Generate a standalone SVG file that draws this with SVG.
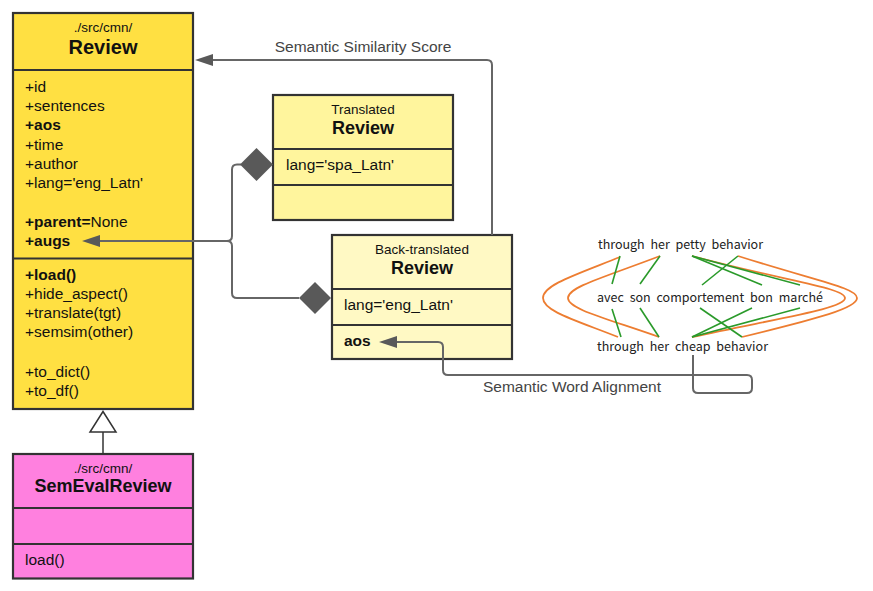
<svg xmlns="http://www.w3.org/2000/svg" width="873" height="591" viewBox="0 0 873 591">
<style>
.box{stroke:#333;stroke-width:2.2}
.t{font-family:"Liberation Sans",Arial,sans-serif;fill:#111}
.m{font-size:15.5px}
.s{font-size:13.5px;text-anchor:middle}
.b{font-weight:bold}
.h{font-size:18px;font-weight:bold;text-anchor:middle}
.conn{fill:none;stroke:#666;stroke-width:2}
.ah{fill:#595959}
.lbl{font-family:"Liberation Sans",Arial,sans-serif;font-size:15.5px;fill:#444;text-anchor:middle}
.al{font-family:"Noto Sans CJK KR","Noto Sans",sans-serif;font-size:12.5px;fill:#222;word-spacing:3px}
.g{stroke:#2a9a2a;stroke-width:1.6;fill:none}
.o{stroke:#ed7d31;stroke-width:1.8;fill:none}
</style>

<g id="review">
<rect class="box" x="13" y="13" width="180" height="396" fill="#ffe042"/>
<line class="box" x1="13" y1="70" x2="193" y2="70"/>
<line class="box" x1="13" y1="258.5" x2="193" y2="258.5"/>
<text class="t s" x="103" y="32">./src/cmn/</text>
<text class="t" x="103" y="54" style="font-size:20px;font-weight:bold;text-anchor:middle">Review</text>
<text class="t m" x="25" y="92">+id</text>
<text class="t m" x="25" y="111">+sentences</text>
<text class="t m b" x="25" y="130">+aos</text>
<text class="t m" x="25" y="150">+time</text>
<text class="t m" x="25" y="169">+author</text>
<text class="t m" x="25" y="188">+lang='eng_Latn'</text>
<text class="t m" x="25" y="227"><tspan class="b">+parent=</tspan>None</text>
<text class="t m b" x="25" y="246">+augs</text>
<text class="t m b" x="25" y="280">+load()</text>
<text class="t m" x="25" y="299">+hide_aspect()</text>
<text class="t m" x="25" y="318">+translate(tgt)</text>
<text class="t m" x="25" y="337">+semsim(other)</text>
<text class="t m" x="25" y="377">+to_dict()</text>
<text class="t m" x="25" y="396">+to_df()</text>
</g>

<g id="semevalreview">
<rect class="box" x="13" y="454" width="180" height="124.5" fill="#ff80df"/>
<line class="box" x1="13" y1="508" x2="193" y2="508"/>
<line class="box" x1="13" y1="544" x2="193" y2="544"/>
<text class="t s" x="103" y="473">./src/cmn/</text>
<text class="t h" x="103" y="492">SemEvalReview</text>
<text class="t m" x="25" y="565">load()</text>
</g>

<g id="translated">
<rect class="box" x="273" y="95" width="180" height="125" fill="#fff59d"/>
<line class="box" x1="273" y1="149" x2="453" y2="149"/>
<line class="box" x1="273" y1="185" x2="453" y2="185"/>
<text class="t s" x="363" y="114">Translated</text>
<text class="t h" x="363" y="134">Review</text>
<text class="t m" x="286" y="170">lang='spa_Latn'</text>
</g>

<g id="backtranslated">
<rect class="box" x="332" y="235" width="180" height="124" fill="#fff9c4"/>
<line class="box" x1="332" y1="289" x2="512" y2="289"/>
<line class="box" x1="332" y1="325" x2="512" y2="325"/>
<text class="t s" x="422" y="254">Back-translated</text>
<text class="t h" x="422" y="274">Review</text>
<text class="t m" x="344" y="310">lang='eng_Latn'</text>
<text class="t m b" x="344" y="346">aos</text>
</g>

<g id="alignment">
<path class="o" d="M620,257 C575,275 543,285 543,298 C543,311 575,320 618,337"/>
<path class="o" d="M660,256 C605,277 568,287 568,298 C568,309 605,318 659,337"/>
<path class="o" d="M692,256 C790,282 845,288 845,298 C845,308 790,316 692,337"/>
<path class="o" d="M738,256 C820,282 857,288 857,298 C857,308 820,318 742,337"/>
<line class="g" x1="620" y1="256" x2="612" y2="284"/>
<line class="g" x1="660" y1="256" x2="640" y2="284"/>
<line class="g" x1="692" y1="256" x2="762" y2="285"/>
<line class="g" x1="692" y1="256" x2="800" y2="285"/>
<line class="g" x1="738" y1="256" x2="702" y2="285"/>
<line class="g" x1="612" y1="309" x2="621" y2="337"/>
<line class="g" x1="640" y1="308" x2="659" y2="337"/>
<line class="g" x1="700" y1="308" x2="742" y2="337"/>
<line class="g" x1="752" y1="308" x2="692" y2="337"/>
<line class="g" x1="800" y1="308" x2="692" y2="337"/>
<text class="al" x="598" y="249" textLength="165" lengthAdjust="spacing">through her petty behavior</text>
<text class="al" x="597" y="302" textLength="226" lengthAdjust="spacing">avec son comportement bon marché</text>
<text class="al" x="597" y="351" textLength="171" lengthAdjust="spacing">through her cheap behavior</text>
</g>

<g id="connectors">
<path class="conn" d="M492,235 L492,65 Q492,60 487,60 L213,60"/>
<path class="ah" d="M195,60 L213,54 L213,66 Z"/>
<text class="lbl" x="363" y="52">Semantic Similarity Score</text>

<path class="conn" d="M241,164.5 L237,164.5 Q232,164.5 232,169.5 L232,236 Q232,241 227,241 L100,241"/>
<path class="conn" d="M299,298 L237,298 Q232,298 232,293 L232,246 Q232,241 227,241"/>
<path class="ah" d="M82,241 L100,235 L100,247 Z"/>
<path class="ah" d="M240,164.5 L256.5,148 L273,164.5 L256.5,181 Z"/>
<path class="ah" d="M299,298 L315,282 L331,298 L315,314 Z"/>

<path class="conn" d="M397,342 L438,342 Q443,342 443,347 L443,370 Q443,375 448,375 L747,375 Q752,375 752,380 L752,388 Q752,393 747,393 L698,393 Q693,393 693,388 L693,355"/>
<path class="ah" d="M379,342 L397,336 L397,348 Z"/>
<text class="lbl" x="572" y="392">Semantic Word Alignment</text>

<path d="M103,454 L103,432" stroke="#333" stroke-width="1.5"/>
<path d="M103,411.5 L116,432 L90,432 Z" fill="#fff" stroke="#333" stroke-width="1.5"/>
</g>
</svg>
